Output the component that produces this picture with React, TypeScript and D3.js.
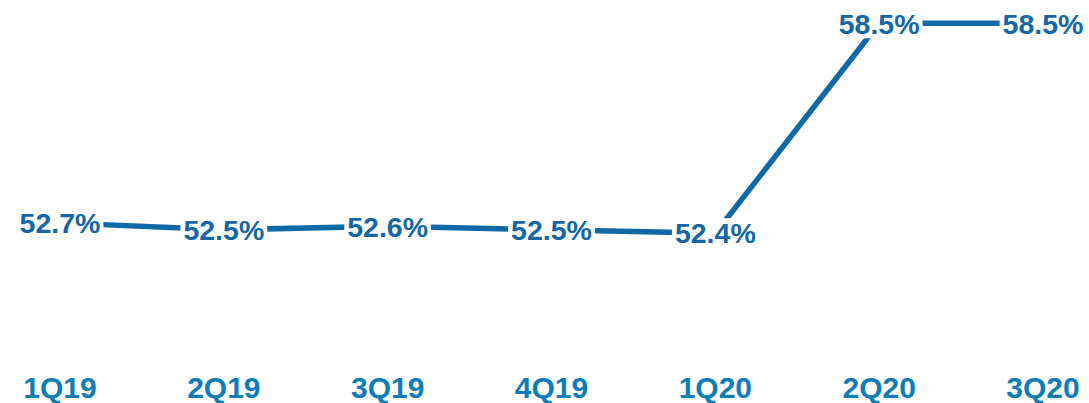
import React from "react";
import * as d3 from "d3";

const categories = ["1Q19", "2Q19", "3Q19", "4Q19", "1Q20", "2Q20", "3Q20"];
const values = [52.7, 52.5, 52.6, 52.5, 52.4, 58.5, 58.5];
const valueLabels = ["52.7%", "52.5%", "52.6%", "52.5%", "52.4%", "58.5%", "58.5%"];

const W = 1089;
const H = 403;
const LINE = "#0f69a7";
const VAL = "#1467a5";
const CAT = "#0d7db8";
const VFS = 28.5;
const CFS = 30;

function approxWidth(s: string, fs: number) {
  let w = 0;
  for (const c of s) {
    if (c === ".") w += 0.278;
    else if (c === "%") w += 0.889;
    else if (c === "Q") w += 0.778;
    else w += 0.556;
  }
  return w * fs;
}

export default function App() {
  const x = d3
    .scalePoint<string>()
    .domain(categories)
    .range([60, 1043]);
  const y = d3.scaleLinear().domain([52.4, 58.5]).range([233.2, 23.3]);

  const pts: [number, number][] = values.map((v, i) => [x(categories[i])!, y(v)]);
  const line = d3.line()(pts) || "";

  return (
    <svg
      width={W}
      height={H}
      style={{ position: "absolute", left: 0, top: 0, background: "#fff" }}
      fontFamily="'Liberation Sans', Arial, sans-serif"
      fontWeight="bold"
    >
      <path d={line} fill="none" stroke={LINE} strokeWidth={5.5} strokeLinejoin="round" />
      {pts.map(([px, py], i) => {
        const w = approxWidth(valueLabels[i], VFS);
        return (
          <g key={i}>
            <rect x={px - w / 2 - 3} y={py - 15} width={w + 6} height={30} fill="#fff" />
            <text
              x={px}
              y={py + 0.358 * VFS}
              textAnchor="middle"
              fontSize={VFS}
              fill={VAL}
            >
              {valueLabels[i]}
            </text>
          </g>
        );
      })}
      {categories.map((c) => (
        <text
          key={c}
          x={x(c)!}
          y={398}
          textAnchor="middle"
          fontSize={CFS}
          fill={CAT}
        >
          {c}
        </text>
      ))}
    </svg>
  );
}
